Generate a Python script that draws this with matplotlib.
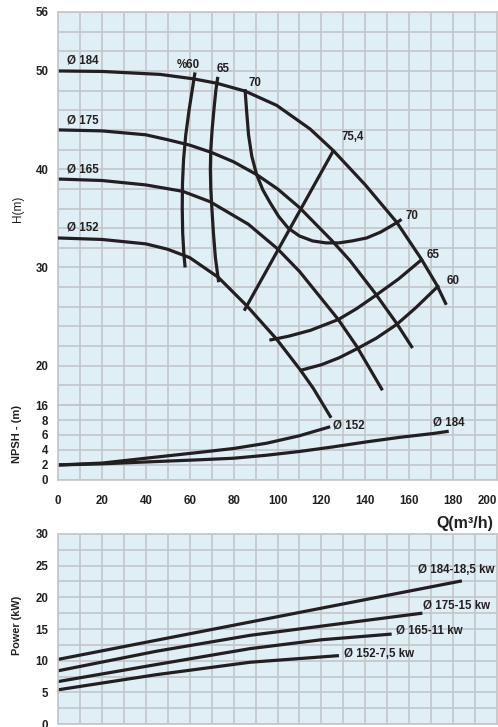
import matplotlib
matplotlib.use('Agg')
import matplotlib.pyplot as plt
from matplotlib.ticker import MultipleLocator

plt.rcParams['font.family'] = ['Liberation Sans', 'DejaVu Sans']

# Head curves H(m) against Q(m3/h) per impeller diameter
q_184 = [0, 20, 46.5, 61.6, 72.3, 85.2, 99.6, 114.8, 125.4, 140, 154.3, 165.4, 172.6, 176.9]
h_184 = [50.0, 49.95, 49.65, 49.2, 48.75, 47.95, 46.5, 44.1, 41.9, 38.4, 34.6, 30.9, 28.2, 26.2]

q_175 = [0, 20, 40, 50, 60, 70, 80, 90.5, 100, 110, 124.5, 133, 144.4, 154.3, 161.5]
h_175 = [44.0, 43.9, 43.5, 43.0, 42.45, 41.7, 40.75, 39.45, 38.0, 36.1, 32.8, 30.7, 27.4, 24.3, 21.8]

q_165 = [0, 20, 40, 56.8, 69.2, 86.7, 100, 110, 127.7, 136, 147.8]
h_165 = [39.0, 38.85, 38.4, 37.75, 36.7, 34.4, 31.9, 29.6, 24.7, 22.0, 17.5]

q_152 = [0, 20, 40, 50, 60, 73, 86, 99.6, 110.3, 116.3, 124.4]
h_152 = [33.0, 32.85, 32.4, 31.85, 31.0, 29.0, 26.1, 22.7, 19.6, 17.7, 14.7]

# Iso-efficiency curves (%)
q_eff60_left = [62.4, 61.1, 59.7, 58.2, 57.2, 56.7, 56.6, 56.8, 57.3, 57.9]
h_eff60_left = [49.85, 48.0, 46.0, 43.5, 41.0, 38.5, 36.0, 33.5, 31.5, 30.0]
q_eff65_left = [72.8, 71.9, 71.0, 70.2, 69.6, 69.4, 69.6, 70.1, 70.8, 71.7, 73.2]
h_eff65_left = [49.4, 48.0, 46.0, 44.0, 42.0, 40.0, 38.0, 36.0, 33.5, 31.0, 28.5]
q_eff70 = [85.2, 85.9, 86.8, 88.3, 90.5, 93.3, 96.6, 100.5, 104.9, 110, 116, 122, 128,
           134, 140.6, 147, 154.3, 156.5]
h_eff70 = [48.15, 46.0, 43.5, 41.3, 39.45, 37.9, 36.6, 35.2, 34.0, 33.2, 32.7, 32.5, 32.5,
           32.7, 33.0, 33.6, 34.55, 34.9]
q_eff754 = [125.6, 84.8]
h_eff754 = [41.95, 25.6]
q_eff65_right = [96.3, 105, 115, 127.7, 136, 144.4, 155, 164.9, 166.0]
h_eff65_right = [22.6, 23.0, 23.6, 24.7, 25.8, 27.1, 28.8, 30.65, 30.9]
q_eff60_right = [110.0, 120, 128, 136.0, 145, 154.3, 163, 172.5, 173.5]
h_eff60_right = [19.5, 20.1, 20.8, 21.7, 22.8, 24.2, 25.9, 27.95, 28.2]

# NPSH curves
q_npsh_152 = [0, 20, 40, 65, 80, 95, 110, 124]
npsh_152 = [2.0, 2.25, 2.9, 3.7, 4.2, 4.9, 5.9, 7.1]
q_npsh_184 = [0, 20, 40, 65, 80, 95, 110, 125, 141, 156, 171, 178]
npsh_184 = [2.0, 2.15, 2.4, 2.7, 2.9, 3.3, 3.8, 4.4, 5.1, 5.7, 6.2, 6.5]

# Power curves (kW)
q_p184 = [0, 87.5, 184]
p_184 = [10.2, 16.1, 22.6]
q_p175 = [0, 45, 87.5, 130, 166]
p_175 = [8.4, 11.5, 14.0, 15.9, 17.5]
q_p165 = [0, 45, 87.5, 120, 152]
p_165 = [6.7, 9.4, 11.9, 13.3, 14.2]
q_p152 = [0, 45, 87.5, 128]
p_152 = [5.4, 7.8, 9.75, 10.8]

q_ticks = list(range(0, 201, 20))
h_ticks = [16, 20, 30, 40, 50, 56]
npsh_ticks = [0, 2, 4, 6, 8]

bg = '#e0eef6'
grid_c = '#c3c6ca'
ink = '#231f20'
lw = 2.3
fs = 8.3

fig = plt.figure(figsize=(4.98, 7.27), dpi=100)
ax_n = fig.add_axes([0.1165, 0.3398, 0.8815, 0.1031])
ax_h = fig.add_axes([0.1165, 0.4429, 0.8815, 0.5406], sharex=ax_n)
ax_p = fig.add_axes([0.1165, 0.0041, 0.8815, 0.2614])
# head axes on top so the Ø152 head curve can run down into the NPSH band
ax_h.set_zorder(2)

for ax in (ax_h, ax_n, ax_p):
    ax.set_facecolor(bg)
    ax.set_xlim(0, 200)
    ax.set_xticks(q_ticks)
    ax.xaxis.set_minor_locator(MultipleLocator(10))
    ax.grid(True, which='both', color=grid_c, linewidth=1.2)
    ax.set_axisbelow(True)
    ax.tick_params(which='both', length=0, labelsize=fs, pad=7)
    for s in ax.spines.values():
        s.set_color(grid_c)
        s.set_linewidth(1.2)

ax_h.set_ylim(16, 56)
ax_h.set_yticks(h_ticks)
ax_h.yaxis.set_minor_locator(MultipleLocator(2))
ax_h.tick_params(axis='x', labelbottom=False)

ax_n.set_ylim(0, 10)
ax_n.set_yticks(npsh_ticks)
ax_n.yaxis.set_minor_locator(MultipleLocator(2))
ax_n.tick_params(axis='x', pad=11)

ax_p.set_ylim(0, 30)
ax_p.yaxis.set_major_locator(MultipleLocator(5))
ax_p.yaxis.set_minor_locator(MultipleLocator(2.5))
ax_p.tick_params(axis='x', labelbottom=False)

kw = dict(color=ink, linewidth=lw, solid_capstyle='butt', solid_joinstyle='round')

# head curves
ax_h.plot(q_184, h_184, **kw)
ax_h.plot(q_175, h_175, **kw)
ax_h.plot(q_165, h_165, **kw)
ax_h.plot(q_152, h_152, clip_on=False, zorder=5, **kw)

# efficiency curves
for qq, hh in [(q_eff60_left, h_eff60_left), (q_eff65_left, h_eff65_left),
               (q_eff70, h_eff70), (q_eff754, h_eff754),
               (q_eff65_right, h_eff65_right), (q_eff60_right, h_eff60_right)]:
    ax_h.plot(qq, hh, **kw)

tk = dict(fontsize=fs, fontweight='bold', color=ink, va='center')
ax_h.text(4.1, 51.05, 'Ø 184', **tk)
ax_h.text(4.1, 45.0, 'Ø 175', **tk)
ax_h.text(4.1, 40.0, 'Ø 165', **tk)
ax_h.text(4.1, 34.1, 'Ø 152', **tk)
ax_h.text(59.2, 50.6, '%60', ha='center', **tk)
ax_h.text(75.2, 50.2, '65', ha='center', **tk)
ax_h.text(87.0, 48.8, '70', **tk)
ax_h.text(129.0, 43.3, '75,4', **tk)
ax_h.text(158.5, 35.2, '70', **tk)
ax_h.text(168.0, 31.3, '65', **tk)
ax_h.text(177.2, 28.6, '60', **tk)

# NPSH curves
ax_n.plot(q_npsh_152, npsh_152, **kw)
ax_n.plot(q_npsh_184, npsh_184, **kw)
ax_n.text(125.3, 7.3, 'Ø 152', **tk)
ax_n.text(170.8, 7.7, 'Ø 184', **tk)

# power curves
ax_p.plot(q_p184, p_184, **kw)
ax_p.plot(q_p175, p_175, **kw)
ax_p.plot(q_p165, p_165, **kw)
ax_p.plot(q_p152, p_152, **kw)
ax_p.text(164.0, 24.3, 'Ø 184-18,5 kw', **tk)
ax_p.text(166.3, 18.7, 'Ø 175-15 kw', **tk)
ax_p.text(153.8, 14.7, 'Ø 165-11 kw', **tk)
ax_p.text(130.3, 11.05, 'Ø 152-7,5 kw', **tk)

fig.text(0.036, 0.7132, 'H(m)', rotation=90, ha='center', va='center', fontsize=8.5, color=ink)
fig.text(0.034, 0.403, 'NPSH - (m)', rotation=90, ha='center', va='center', fontsize=8, fontweight='bold', color=ink)
fig.text(0.034, 0.1403, 'Power (kW)', rotation=90, ha='center', va='center', fontsize=7.8, fontweight='bold', color=ink)
fig.text(0.99, 0.2806, 'Q(m³/h)', ha='right', va='center', fontsize=11.5, fontweight='bold', color=ink)

fig.canvas.draw()
for ax in (ax_h, ax_n, ax_p):
    for lab in ax.get_yticklabels() + ax.get_xticklabels():
        lab.set_fontweight('bold')
        lab.set_color(ink)
        if lab.get_text() == '200':
            lab.set_horizontalalignment('right')
            lab.set_x(203)

fig.savefig('out.png', dpi=100)
